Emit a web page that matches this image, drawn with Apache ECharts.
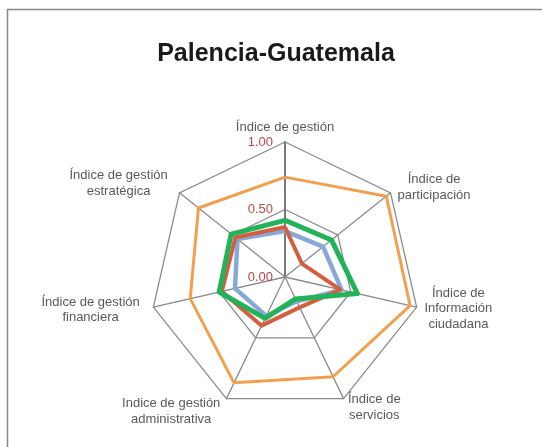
<!DOCTYPE html>
<html>
<head>
<meta charset="utf-8">
<script src="https://cdn.jsdelivr.net/npm/echarts@6/dist/echarts.min.js"></script>
<style>
html,body{margin:0;padding:0;background:#fff;}
#chart{width:542px;height:447px;}
</style>
</head>
<body>
<div id="chart"></div>
<script>
// clockwise from the top, as in the reference
var indicatorNames = [
  'Índice de gestión',
  'Índice de\nparticipación',
  'Índice de\nInformación\nciudadana',
  'Índice de\nservicios',
  'Indice de gestión\nadministrativa',
  'Índice de gestión\nfinanciera',
  'Índice de gestión\nestratégica'
];
var nameGaps = [7, 9, 8, 10, 14, 14, 15];
var tickLabels = ['0.00', '0.50', '1.00'];
var seriesOrange = [0.74, 0.96, 0.95, 0.82, 0.87, 0.72, 0.82];
var seriesBlue   = [0.34, 0.36, 0.43, 0.20, 0.32, 0.38, 0.45];
var seriesRed    = [0.37, 0.16, 0.42, 0.25, 0.40, 0.48, 0.47];
var seriesGreen  = [0.42, 0.44, 0.55, 0.18, 0.34, 0.50, 0.51];

var FONT = '"Liberation Sans", Arial, Helvetica, sans-serif';

// ECharts radar runs counter-clockwise: reorder so the first stays on top
function cw(arr) {
  var out = [arr[0]];
  for (var i = arr.length - 1; i >= 1; i--) out.push(arr[i]);
  return out;
}

var indicators = cw(indicatorNames.map(function (n, i) {
  var ind = { name: n, min: 0, max: 1, nameGap: nameGaps[i] };
  if (i === 0) {
    ind.axisLabel = {
      show: true,
      margin: 12,
      color: '#C0464B',
      fontSize: 13,
      fontFamily: FONT,
      formatter: function (v) {
        var idx = Math.round(v * 2);
        return tickLabels[idx] !== undefined ? tickLabels[idx] : '';
      }
    };
    ind.axisLine = { show: true, lineStyle: { color: '#7a7a7a', width: 2 } };
  }
  return ind;
}));

function mk(data, color, width, z) {
  return {
    type: 'radar',
    symbol: 'none',
    z: z,
    lineStyle: { color: color, width: width },
    itemStyle: { color: color },
    data: [{ value: cw(data) }]
  };
}

var chart = echarts.init(document.getElementById('chart'), null, { renderer: 'canvas' });
chart.setOption({
  animation: false,
  backgroundColor: '#fff',
  title: {
    text: 'Palencia-Guatemala',
    left: 271,
    top: 37,
    textAlign: 'center',
    textStyle: { fontFamily: FONT, fontSize: 25, fontWeight: 'bold', color: '#1a1a1a' }
  },
  graphic: [{
    type: 'rect',
    shape: { x: 7.5, y: 9.5, width: 560, height: 460 },
    style: { fill: 'none', stroke: '#888', lineWidth: 1.5 },
    z: -1
  }],
  radar: {
    center: [285, 277],
    radius: 135,
    startAngle: 90,
    splitNumber: 2,
    shape: 'polygon',
    axisName: {
      color: '#595959',
      fontSize: 13,
      fontFamily: FONT,
      lineHeight: 15.5,
      formatter: function (name) {
        return name.split('\n').map(function (l) { return '{c|' + l + '}'; }).join('\n');
      },
      rich: { c: { align: 'center', color: '#595959', fontSize: 13, fontFamily: FONT, lineHeight: 15.5 } }
    },
    axisLine: { show: true, lineStyle: { color: '#8c8c8c', width: 1.3 } },
    splitLine: { show: true, lineStyle: { color: '#8c8c8c', width: 1.3 } },
    splitArea: { show: false },
    axisTick: { show: false },
    axisLabel: { show: false },
    indicator: indicators
  },
  series: [
    mk(seriesOrange, '#F2A04E', 3, 2),
    mk(seriesBlue, '#86A9DA', 4.5, 3),
    mk(seriesRed, '#D45F3E', 4, 4),
    mk(seriesGreen, '#22B25A', 5, 5)
  ]
});
</script>
</body>
</html>
